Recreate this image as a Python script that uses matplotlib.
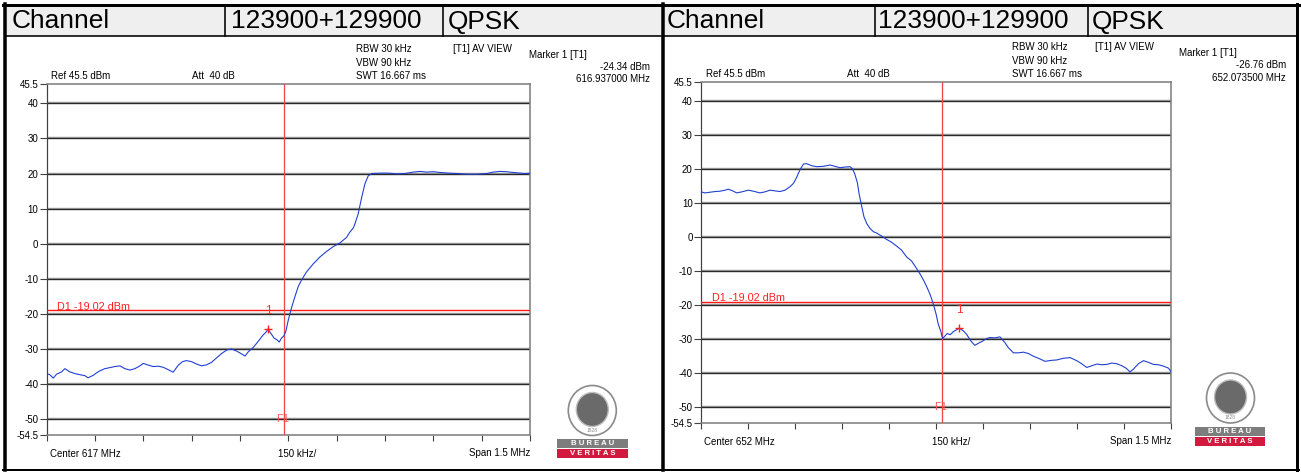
import matplotlib.pyplot as plt
from matplotlib.patches import Rectangle, Ellipse

plt.rcParams['font.family'] = ['Liberation Sans', 'DejaVu Sans']

# header row
header = ["Channel", "123900+129900", "QPSK"]

# analyzer settings (same for both shots)
ref_level = 45.5
bottom_level = -54.5
span_mhz = 1.5
div_khz = 150
d1_level = -19.02
grid_levels = [40, 30, 20, 10, 0, -10, -20, -30, -40, -50]
ytick_vals = [45.5, 40, 30, 20, 10, 0, -10, -20, -30, -40, -50, -54.5]
ytick_text = ["45.5", "40", "30", "20", "10", "0", "-10", "-20", "-30", "-40", "-50", "-54.5"]

# left shot: 617 MHz
center_a = 617
f1_a = 616.986
marker_a_freq = 616.937
marker_a_level = -24.34
freq_a = [616.250, 616.260, 616.271, 616.281, 616.297, 616.307, 616.322, 616.338, 616.353, 616.369,
          616.379, 616.395, 616.405, 616.416, 616.431, 616.447, 616.462, 616.478, 616.493, 616.509,
          616.524, 616.540, 616.550, 616.566, 616.581, 616.597, 616.612, 616.628, 616.643, 616.659,
          616.672, 616.684, 616.700, 616.716, 616.731, 616.747, 616.762, 616.778, 616.793, 616.809,
          616.824, 616.840, 616.855, 616.866, 616.876, 616.891, 616.907, 616.922, 616.933, 616.937,
          616.948, 616.956, 616.964, 616.972, 616.979, 616.987, 616.993, 617.000, 617.010, 617.021,
          617.031, 617.041, 617.057, 617.078, 617.098, 617.119, 617.140, 617.160, 617.181, 617.191,
          617.202, 617.207, 617.217, 617.228, 617.238, 617.248, 617.259, 617.284, 617.310, 617.336,
          617.362, 617.388, 617.409, 617.429, 617.450, 617.471, 617.497, 617.522, 617.553, 617.584,
          617.616, 617.636, 617.657, 617.678, 617.698, 617.719, 617.734, 617.750]
level_a = [-37.0, -37.3, -38.3, -37.2, -36.5, -35.6, -36.5, -37.0, -37.3, -37.6,
           -38.2, -37.5, -36.8, -36.2, -35.6, -35.3, -35.0, -34.8, -35.6, -36.0,
           -35.6, -34.8, -34.1, -34.6, -35.0, -34.9, -35.2, -35.9, -36.6, -34.6,
           -33.6, -33.3, -33.6, -34.3, -34.8, -34.5, -33.8, -32.5, -31.3, -30.3,
           -30.0, -30.6, -31.4, -32.0, -30.8, -29.6, -27.8, -26.0, -25.0, -24.34,
           -25.8, -26.9, -27.3, -28.0, -26.9, -26.2, -24.8, -21.8, -18.3, -15.0,
           -12.2, -10.4, -8.0, -5.7, -3.8, -2.2, -0.8, 0.2, 1.8, 3.3,
           4.5, 5.7, 8.5, 13.3, 17.1, 19.3, 20.0, 20.1, 20.1, 19.9,
           20.0, 20.4, 20.6, 20.4, 20.5, 20.3, 20.1, 20.0, 19.8, 19.8,
           20.0, 20.4, 20.6, 20.5, 20.3, 20.1, 20.0, 20.1]

# right shot: 652 MHz
center_b = 652
f1_b = 652.018
marker_b_freq = 652.0735
marker_b_level = -26.76
freq_b = [651.250, 651.263, 651.279, 651.295, 651.311, 651.327, 651.337, 651.351, 651.364, 651.380,
          651.401, 651.417, 651.438, 651.454, 651.470, 651.486, 651.502, 651.518, 651.534, 651.545,
          651.555, 651.566, 651.577, 651.587, 651.603, 651.619, 651.640, 651.662, 651.678, 651.694,
          651.710, 651.726, 651.734, 651.741, 651.749, 651.755, 651.763, 651.770, 651.779, 651.789,
          651.800, 651.811, 651.821, 651.832, 651.843, 651.858, 651.874, 651.890, 651.906, 651.922,
          651.938, 651.949, 651.960, 651.970, 651.981, 651.991, 652.000, 652.007, 652.015, 652.021,
          652.029, 652.036, 652.045, 652.055, 652.066, 652.0735, 652.087, 652.098, 652.111, 652.124,
          652.135, 652.146, 652.162, 652.172, 652.188, 652.204, 652.220, 652.231, 652.247, 652.263,
          652.279, 652.295, 652.311, 652.332, 652.348, 652.369, 652.385, 652.406, 652.428, 652.449,
          652.465, 652.481, 652.497, 652.513, 652.529, 652.545, 652.561, 652.577, 652.593, 652.608,
          652.619, 652.630, 652.646, 652.662, 652.678, 652.694, 652.710, 652.726, 652.742, 652.750]
level_b = [13.3, 13.0, 13.2, 13.4, 13.5, 13.8, 14.1, 13.6, 13.0, 13.3,
           13.8, 13.5, 13.0, 13.3, 13.8, 13.6, 13.4, 13.8, 14.8, 15.8,
           17.5, 19.8, 21.5, 21.6, 21.0, 20.7, 20.8, 21.2, 20.8, 20.4,
           20.6, 20.7, 20.0, 18.5, 16.0, 12.5, 9.0, 6.0, 4.0, 2.6,
           1.6, 1.2, 0.6, 0.0, -0.7, -1.5, -2.6, -3.8, -5.8, -7.0,
           -9.2, -10.8, -12.6, -14.5, -16.8, -19.5, -22.5, -25.5, -27.6, -29.8,
           -29.0, -28.3, -28.7, -27.8, -27.2, -26.76, -27.5, -28.6, -30.5, -31.8,
           -31.2, -30.7, -29.8, -29.5, -29.6, -29.3, -31.0, -32.5, -34.0, -34.0,
           -33.8, -34.2, -35.0, -35.8, -36.5, -36.2, -36.1, -35.6, -35.4, -36.3,
           -37.2, -38.3, -37.8, -37.3, -37.5, -37.4, -37.0, -37.2, -37.8, -38.6,
           -39.6, -38.8, -37.2, -36.3, -36.8, -37.4, -37.5, -37.9, -38.5, -39.6]

W, H = 1301, 472
fig = plt.figure(figsize=(W / 100, H / 100), dpi=100)

# overlay in pixel coordinates for the report frame
ov = fig.add_axes([0, 0, 1, 1])
ov.set_xlim(0, W)
ov.set_ylim(H, 0)
ov.axis('off')


def pt(px):
    return px * 0.72


def frac_box(x0, y0, x1, y1):
    return [x0 / W, 1 - y1 / H, (x1 - x0) / W, (y1 - y0) / H]


def draw_header(x0, x1, divs, text_x):
    ov.add_patch(Rectangle((x0, 5), x1 - x0, 31, facecolor='#efefef', edgecolor='none'))
    ov.plot([x0, x1], [36, 36], color='black', lw=pt(1.6))
    for d in divs:
        ov.plot([d, d], [5, 36], color='black', lw=pt(1.6))
    for tx, s in zip(text_x, header):
        ov.text(tx, 21.5, s, fontsize=18.9, va='center', ha='left')


def draw_logo(cx, cy, bx0, bx1, by):
    ov.add_patch(Ellipse((cx, cy), 48, 50, facecolor='white', edgecolor='#8a8a8a', lw=1.2))
    ov.add_patch(Ellipse((cx, cy - 1), 32, 34, facecolor='#6a6a6a', edgecolor='#bdbdbd', lw=1))
    ov.text(cx, cy + 19.5, "1828", fontsize=3.5, color='#8a8a8a', ha='center', va='center')
    ov.add_patch(Rectangle((bx0, by), bx1 - bx0, 9, facecolor='#7d7d7d', edgecolor='none'))
    ov.add_patch(Rectangle((bx0, by + 10), bx1 - bx0, 8.5, facecolor='#d21a3e', edgecolor='none'))
    ov.text((bx0 + bx1) / 2, by + 4.7, "B U R E A U", color='white', fontsize=5.6,
            fontweight='bold', ha='center', va='center')
    ov.text((bx0 + bx1) / 2, by + 14.4, "V E R I T A S", color='white', fontsize=5.6,
            fontweight='bold', ha='center', va='center')


def draw_panel(box, center, freq, level, f1, mk_f, mk_l, txt):
    x0, y0, x1, y1 = box
    ax = fig.add_axes(frac_box(x0, y0, x1, y1))
    start = center - span_mhz / 2
    ax.set_xlim(start, center + span_mhz / 2)
    ax.set_ylim(bottom_level, ref_level)
    for g in grid_levels:
        ax.axhline(g, color='#9a9a9a', lw=pt(2.4), zorder=1)
        ax.axhline(g, color='#2a2a2a', lw=pt(1.2), zorder=1)
    ax.axhline(d1_level, color='#ff1a1a', lw=pt(1.4), zorder=3)
    ax.axvline(f1, color='#f04848', lw=pt(1.3), zorder=3)
    ax.plot(freq, level, color='#1f3fd2', lw=pt(1.1), zorder=4)
    ax.plot([mk_f], [mk_l], marker='+', color='#ff2020', markersize=6, mew=1.0, zorder=5)
    ax.annotate("1", (mk_f, mk_l), xytext=(0, 18), textcoords='offset pixels',
                color='#ff3030', fontsize=8.5, ha='center', va='center')
    ax.annotate("F1", (f1, -50), xytext=(-1.5, 0), textcoords='offset pixels',
                color='#ff5a5a', fontsize=8, ha='center', va='center', zorder=2)
    ax.annotate("D1 %.2f dBm" % d1_level, (0, d1_level), xycoords=('axes fraction', 'data'),
                xytext=(10.5, 3.5), textcoords='offset pixels', color='#ff2020',
                fontsize=7.8, ha='left', va='center')
    ax.set_yticks(ytick_vals)
    ax.set_yticklabels(ytick_text, fontsize=7)
    ax.set_xticks([start + i * div_khz / 1000 for i in range(11)])
    ax.set_xticklabels([])
    ax.tick_params(axis='y', length=5, width=0.8, color='#404040', pad=1)
    ax.tick_params(axis='x', length=4, width=0.8, color='#404040')
    for side in ['top', 'right', 'bottom']:
        ax.spines[side].set_color('#808080')
        ax.spines[side].set_linewidth(pt(1.6))
    ax.spines['left'].set_color('#404040')
    ax.spines['left'].set_linewidth(pt(1.2))

    # instrument readouts
    ov.text(x0 + 4.5, y0 - 8, "Ref %.1f dBm" % ref_level, fontsize=7, va='center')
    ov.text(x0 + 146, y0 - 8, "Att  40 dB", fontsize=7, va='center')
    ov.text(x0 + 22, y0 + 10.5, "Offset 30.5 dB", fontsize=7, va='center')
    ov.text(txt[0], y0 - 35, "RBW 30 kHz", fontsize=7, va='center')
    ov.text(txt[0], y0 - 21.5, "VBW 90 kHz", fontsize=7, va='center')
    ov.text(txt[0], y0 - 8, "SWT 16.667 ms", fontsize=7, va='center')
    ov.text(txt[1], y0 - 35, "[T1] AV VIEW", fontsize=7, va='center')
    ov.text(txt[2], y0 - 29, "Marker 1 [T1]", fontsize=7, va='center')
    ov.text(txt[3], y0 - 17, "%.2f dBm" % mk_l, fontsize=7, va='center', ha='right')
    ov.text(txt[3], y0 - 4.5, "%.6f MHz" % mk_f, fontsize=7, va='center', ha='right')
    ov.text(x0 + 3.5, y1 + 19, "Center %d MHz" % center, fontsize=7, va='center')
    ov.text(x0 + 231.5, y1 + 19, "%d kHz/" % div_khz, fontsize=7, va='center')
    ov.text(x1, y1 + 18, "Span %.1f MHz" % span_mhz, fontsize=7, va='center', ha='right')
    return ax


draw_header(5, 661, [225, 443], [12, 231, 448])
draw_header(663, 1297, [875, 1088], [667, 878, 1092])

draw_panel((46.5, 84, 530, 435), center_a, freq_a, level_a, f1_a,
           marker_a_freq, marker_a_level, [356, 453, 529, 650])
draw_panel((701, 82.3, 1171, 422.6), center_b, freq_b, level_b, f1_b,
           marker_b_freq, marker_b_level, [1011.5, 1095, 1179, 1286])

draw_logo(592.3, 410.5, 557, 628, 439)
draw_logo(1230.5, 398, 1195, 1265, 427)

# outer frame
ov.plot([3, 1299], [5, 5], color='black', lw=pt(3))
ov.plot([5, 5], [4, 470], color='black', lw=pt(3.5))
ov.plot([663, 663], [4, 470], color='black', lw=pt(3.5))
ov.plot([1297, 1297], [4, 470], color='black', lw=pt(3))
ov.plot([3, 1299], [470, 470], color='black', lw=pt(2))

fig.savefig('out.png', dpi=100)
